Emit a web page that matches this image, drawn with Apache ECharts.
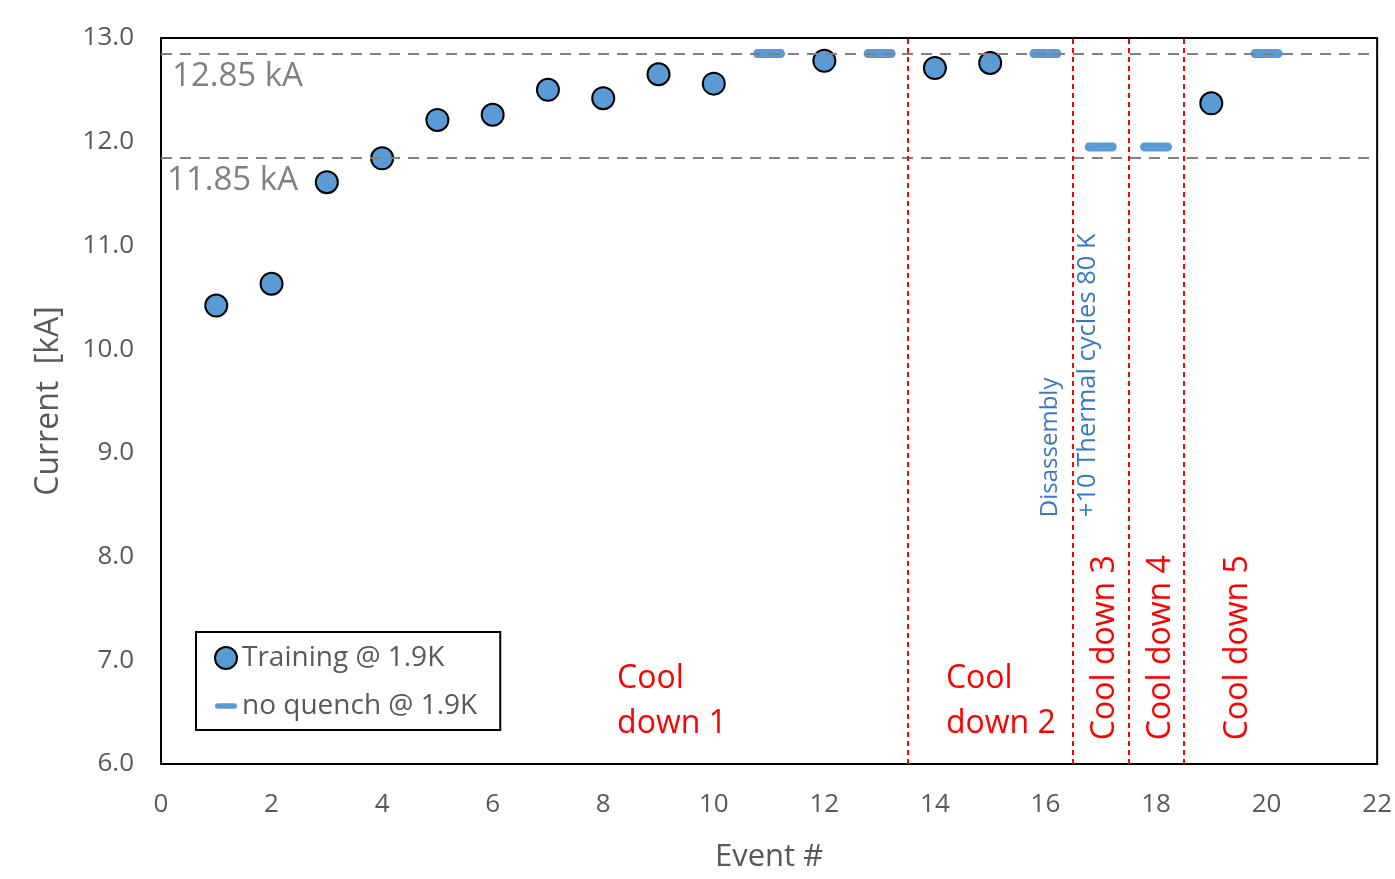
<!DOCTYPE html>
<html>
<head>
<meta charset="utf-8">
<script src="https://cdn.jsdelivr.net/npm/echarts@6/dist/echarts.min.js"></script>
<style>
  html, body { margin: 0; padding: 0; background: #fff; }
  #chart { width: 1395px; height: 879px; }
</style>
</head>
<body>
<div id="chart"></div>
<script>
// Quench training events (event number, quench current in kA)
const trainingEvents = [1, 2, 3, 4, 5, 6, 7, 8, 9, 10, 12, 14, 15, 19];
const trainingCurrent = [10.42, 10.63, 11.61, 11.84, 12.21, 12.26, 12.50, 12.42, 12.65, 12.56, 12.78, 12.71, 12.76, 12.37];

// Ramps that reached the target without quenching
const noQuenchEvents = [11, 13, 16, 17, 18, 20];
const noQuenchCurrent = [12.85, 12.85, 12.85, 11.95, 11.95, 12.85];

// Reference current levels and thermal-cycle boundaries
const refLevels = [12.85, 11.85];
const refLabels = ['12.85 kA', '11.85 kA'];
const cooldownBounds = [13.5, 16.5, 17.5, 18.5];

const yTicks = [6, 7, 8, 9, 10, 11, 12, 13];
const xTicks = [0, 2, 4, 6, 8, 10, 12, 14, 16, 18, 20, 22];

const FONT = '"Open Sans", "Noto Sans", sans-serif';
const BLUE = '#5B9BD5';

const chart = echarts.init(document.getElementById('chart'));

const trainingData = trainingEvents.map((x, i) => [x, trainingCurrent[i]]);
const noQuenchData = noQuenchEvents.map((x, i) => [x, noQuenchCurrent[i]]);

const barIcon = 'path://M4,0H28A4,4 0 0 1 28,8H4A4,4 0 0 1 4,0Z';

chart.setOption({
  animation: false,
  textStyle: { fontFamily: FONT },
  grid: {
    left: 161, right: 16, top: 38, bottom: 115,
    show: true, borderColor: '#000', borderWidth: 2, backgroundColor: '#fff'
  },
  xAxis: {
    type: 'value', min: xTicks[0], max: xTicks[xTicks.length - 1], interval: 2,
    name: 'Event #', nameLocation: 'middle', nameGap: 78,
    nameTextStyle: { fontSize: 31, color: '#595959', fontFamily: FONT },
    axisLine: { show: true, lineStyle: { color: '#000', width: 2 } },
    axisTick: { show: false },
    splitLine: { show: false },
    axisLabel: { fontSize: 26, color: '#595959', margin: 28, fontFamily: FONT }
  },
  yAxis: {
    type: 'value', min: yTicks[0], max: yTicks[yTicks.length - 1], interval: 1,
    name: 'Current  [kA]', nameLocation: 'middle', nameGap: 96, nameRotate: 90,
    nameTextStyle: { fontSize: 32, color: '#595959', fontFamily: FONT },
    axisLine: { show: true, lineStyle: { color: '#000', width: 2 } },
    axisTick: { show: false },
    splitLine: { show: false },
    axisLabel: { fontSize: 26, color: '#595959', margin: 27, fontFamily: FONT,
      formatter: v => v.toFixed(1) }
  },
  legend: {
    orient: 'vertical', left: 196, top: 632,
    padding: [12, 23, 10, 18],
    itemGap: 20,
    itemWidth: 22, itemHeight: 22,
    backgroundColor: '#fff',
    borderColor: '#000', borderWidth: 2,
    textStyle: { fontSize: 28, lineHeight: 28, color: '#595959', fontFamily: FONT },
    data: [
      { name: 'Training @ 1.9K', icon: 'circle',
        itemStyle: { color: BLUE, borderColor: '#000', borderWidth: 2 } },
      { name: 'no quench @ 1.9K', icon: barIcon,
        itemStyle: { color: BLUE, borderWidth: 0 } }
    ]
  },
  series: [
    {
      name: 'guides', type: 'line', data: [], silent: true,
      markLine: {
        symbol: 'none', silent: true, animation: false,
        label: { show: false },
        data: [
          ...refLevels.map(v => ({ yAxis: v,
            lineStyle: { color: '#808080', width: 2, type: [11, 8] } })),
          ...cooldownBounds.map(v => ({ xAxis: v,
            lineStyle: { color: '#ff0000', width: 2, type: [5, 4] } }))
        ]
      }
    },
    {
      name: 'no quench @ 1.9K', type: 'scatter', data: noQuenchData,
      symbol: barIcon, symbolSize: [32, 9], symbolKeepAspect: false,
      itemStyle: { color: BLUE, opacity: 1 }, z: 3
    },
    {
      name: 'Training @ 1.9K', type: 'scatter', data: trainingData,
      symbol: 'circle', symbolSize: 22,
      itemStyle: { color: BLUE, borderColor: '#000', borderWidth: 2, opacity: 1 }, z: 4
    }
  ]
});

// Text annotations placed in data coordinates
const px = (x, y) => chart.convertToPixel({ gridIndex: 0 }, [x, y]);
const graphics = [];

refLevels.forEach((v, i) => {
  const p = px(i === 0 ? 0.2 : 0.11, v);
  graphics.push({ type: 'text', x: p[0], y: p[1] + 23, z: 10,
    style: { text: refLabels[i], fill: '#808080', font: '33px ' + FONT,
      textAlign: 'left', textVerticalAlign: 'middle' } });
});

const flatNotes = [
  { text: 'Cool\ndown 1', x: 8.25 },
  { text: 'Cool\ndown 2', x: 14.2 }
];
flatNotes.forEach(n => {
  const p = px(n.x, 6.6);
  graphics.push({ type: 'text', x: p[0], y: p[1], z: 10,
    style: { text: n.text, fill: '#ff0000', font: '32px ' + FONT,
      lineHeight: 45, textAlign: 'left', textVerticalAlign: 'middle' } });
});

const verticalNotes = [
  { text: 'Cool down 3', x: 17.08, y: 6.23, color: '#ff0000', size: 32 },
  { text: 'Cool down 4', x: 18.09, y: 6.23, color: '#ff0000', size: 32 },
  { text: 'Cool down 5', x: 19.49, y: 6.23, color: '#ff0000', size: 32 },
  { text: 'Disassembly', x: 16.08, y: 8.38, color: '#3A78C0', size: 24 },
  { text: '+10 Thermal cycles 80 K', x: 16.77, y: 8.38, color: '#3A78C0', size: 25.5 }
];
verticalNotes.forEach(n => {
  const p = px(n.x, n.y);
  graphics.push({ type: 'text', x: p[0], y: p[1], rotation: Math.PI / 2, z: 10,
    style: { text: n.text, fill: n.color, font: n.size + 'px ' + FONT,
      textAlign: 'left', textVerticalAlign: 'middle' } });
});

chart.setOption({ graphic: graphics });
</script>
</body>
</html>
